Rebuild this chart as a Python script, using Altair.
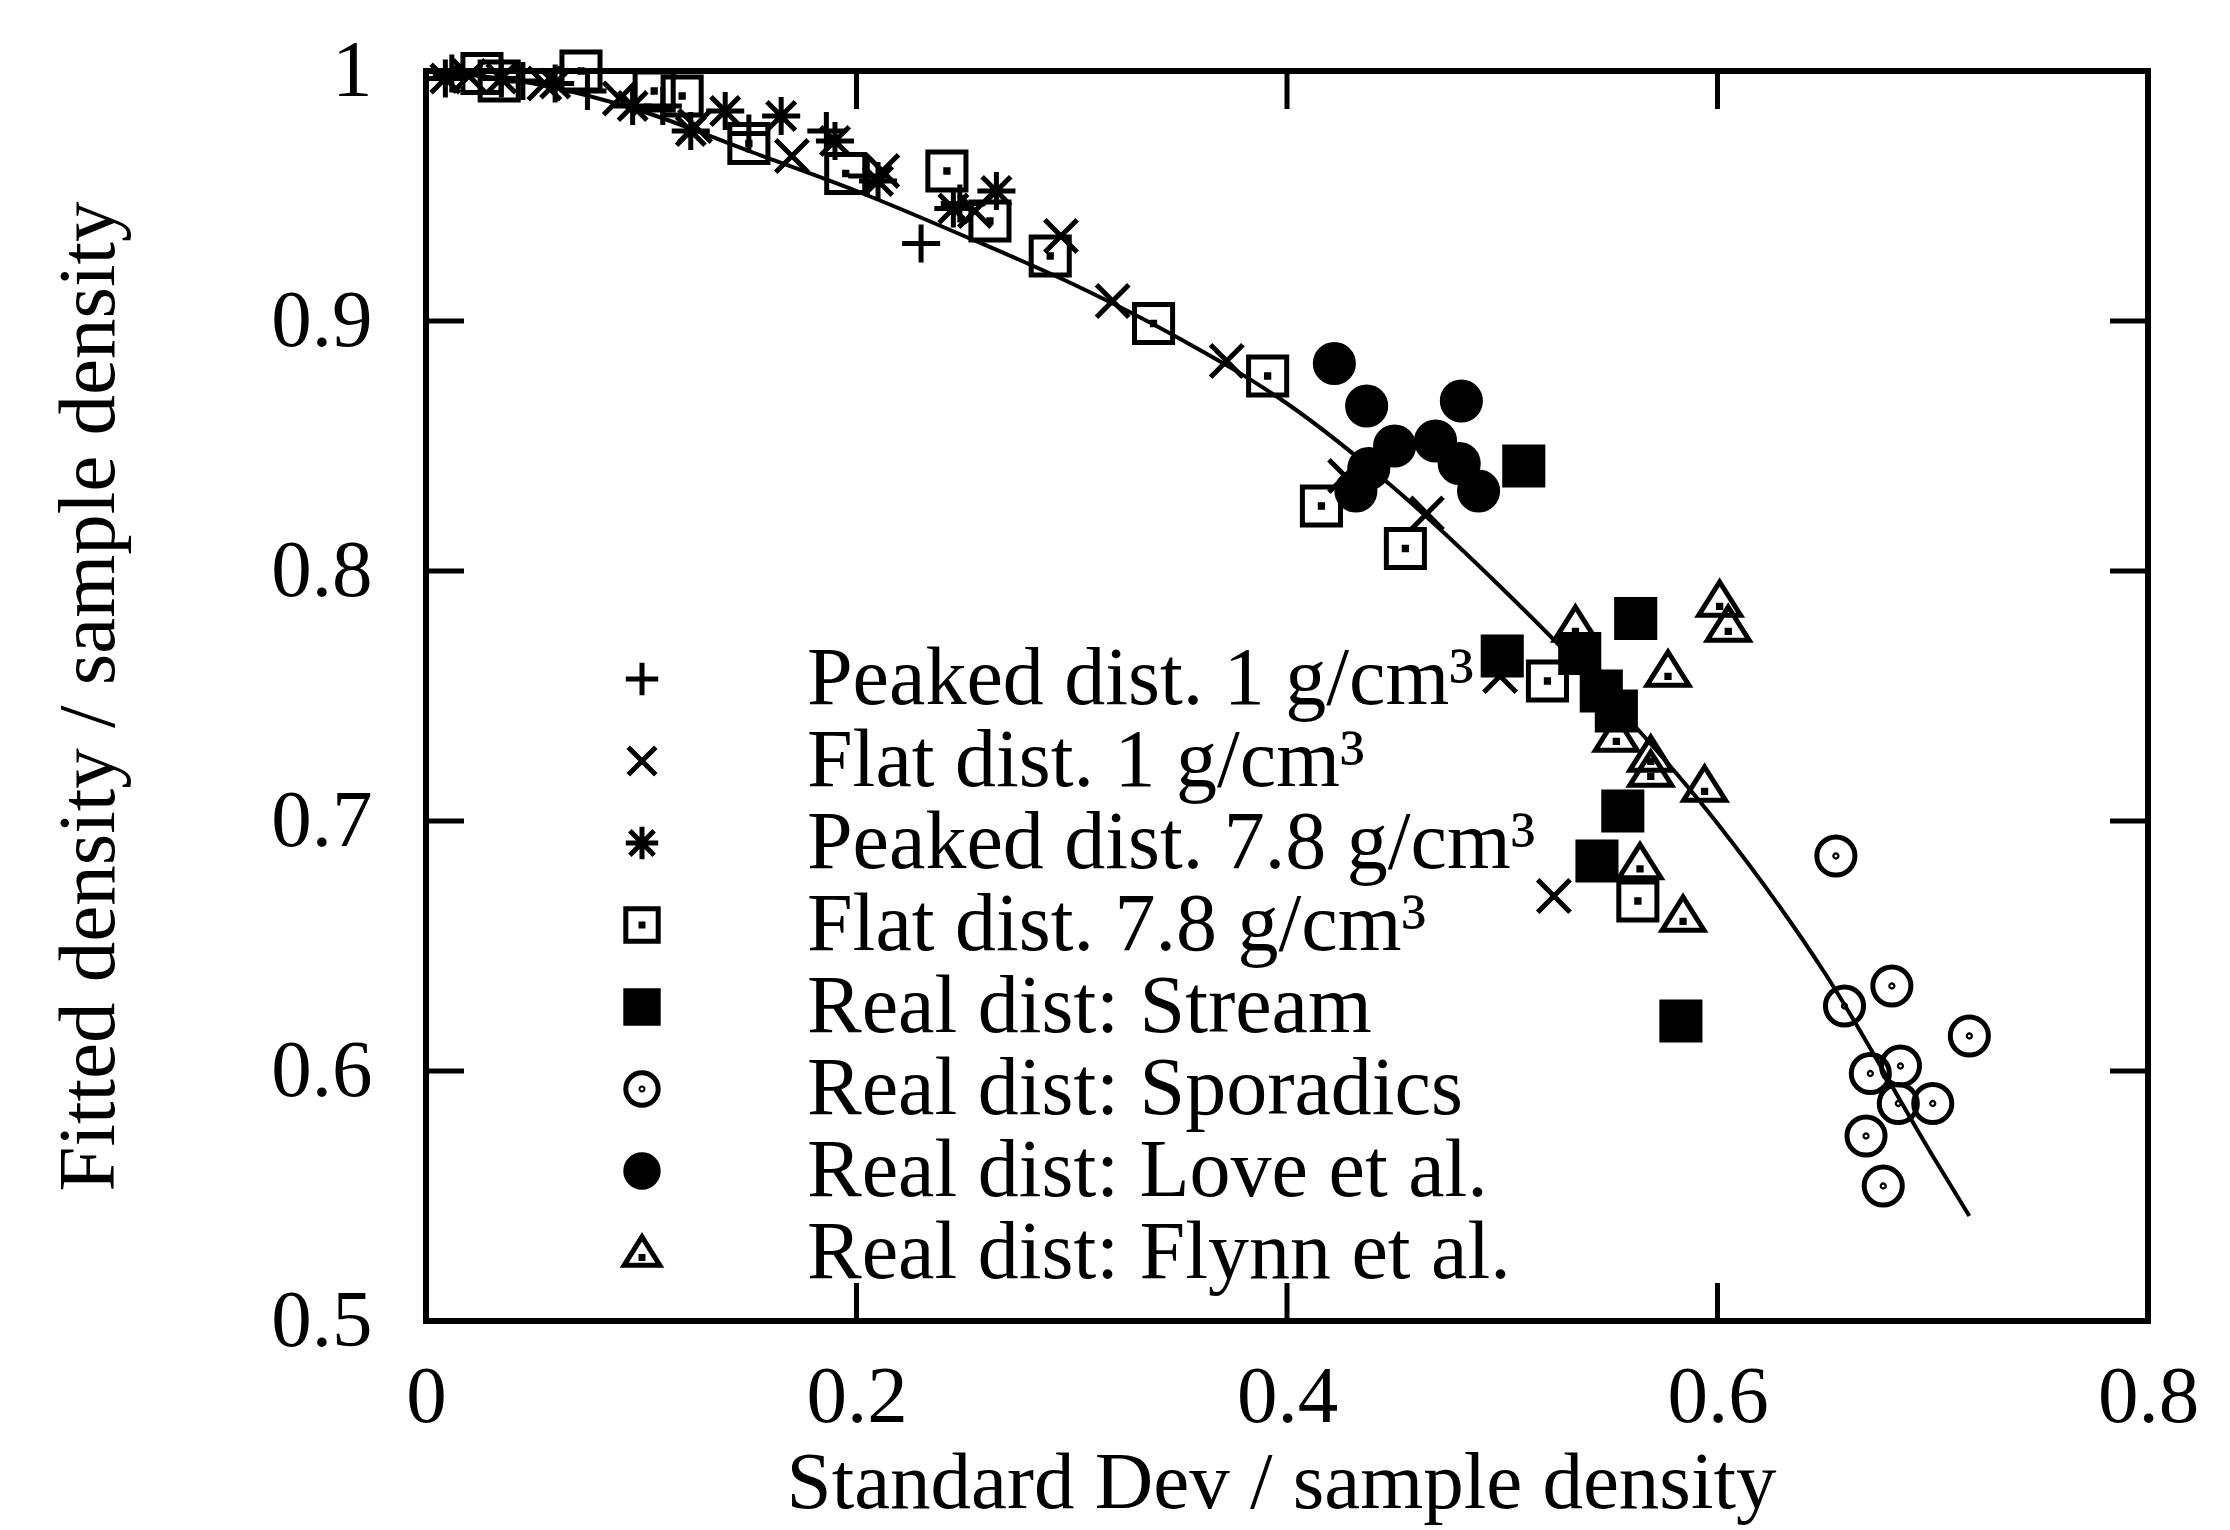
import altair as alt
import pandas as pd

# ---------------- data ----------------
series_names = [
    "Peaked dist. 1 g/cm³",
    "Flat dist. 1 g/cm³",
    "Peaked dist. 7.8 g/cm³",
    "Flat dist. 7.8 g/cm³",
    "Real dist: Stream",
    "Real dist: Sporadics",
    "Real dist: Love et al.",
    "Real dist: Flynn et al.",
]

peaked1_x = [0.012, 0.045, 0.075, 0.110, 0.150, 0.186, 0.205, 0.230, 0.248]
peaked1_y = [0.999, 0.996, 0.992, 0.986, 0.975, 0.976, 0.958, 0.931, 0.947]

flat1_x = [0.020, 0.055, 0.090, 0.125, 0.170, 0.212, 0.255, 0.295, 0.319, 0.372, 0.427, 0.465, 0.499, 0.524]
flat1_y = [0.998, 0.995, 0.989, 0.978, 0.966, 0.960, 0.944, 0.934, 0.908, 0.884, 0.838, 0.823, 0.758, 0.670]

peaked78_x = [0.009, 0.035, 0.060, 0.096, 0.123, 0.139, 0.165, 0.190, 0.210, 0.245, 0.265]
peaked78_y = [0.997, 0.997, 0.995, 0.986, 0.976, 0.984, 0.982, 0.972, 0.956, 0.945, 0.952]

flat78_x = [0.026, 0.034, 0.072, 0.106, 0.119, 0.150, 0.195, 0.242, 0.262, 0.290, 0.338, 0.391, 0.416, 0.455, 0.521, 0.563]
flat78_y = [0.999, 0.996, 1.000, 0.992, 0.990, 0.971, 0.959, 0.960, 0.940, 0.926, 0.899, 0.878, 0.826, 0.809, 0.756, 0.668]

stream_x = [0.510, 0.562, 0.500, 0.536, 0.546, 0.553, 0.556, 0.544, 0.583]
stream_y = [0.842, 0.781, 0.766, 0.767, 0.752, 0.744, 0.704, 0.684, 0.620]

sporadics_x = [0.655, 0.681, 0.659, 0.717, 0.671, 0.685, 0.684, 0.700, 0.669, 0.677]
sporadics_y = [0.686, 0.634, 0.626, 0.614, 0.599, 0.602, 0.587, 0.587, 0.574, 0.554]

love_x = [0.422, 0.437, 0.481, 0.450, 0.469, 0.438, 0.432, 0.480, 0.489]
love_y = [0.883, 0.866, 0.868, 0.850, 0.852, 0.841, 0.832, 0.843, 0.832]

flynn_x = [0.534, 0.601, 0.605, 0.577, 0.553, 0.569, 0.569, 0.594, 0.564, 0.584]
flynn_y = [0.778, 0.788, 0.778, 0.760, 0.734, 0.726, 0.720, 0.714, 0.683, 0.662]

fit_x = [0.0, 0.05, 0.10, 0.15, 0.20, 0.25, 0.30, 0.35, 0.40, 0.45, 0.50, 0.55, 0.60, 0.65, 0.70, 0.717]
fit_y = [1.0, 0.995, 0.984, 0.968, 0.952, 0.934, 0.915, 0.893, 0.867, 0.833, 0.793, 0.749, 0.699, 0.639, 0.566, 0.542]

x_ticks = [0.2, 0.4, 0.6]
y_ticks = [0.6, 0.7, 0.8, 0.9]

# ---------------- styling ----------------
shape_paths = [
    "M-1,0H1M0,-1V1",
    "M-0.85,-0.85L0.85,0.85M-0.85,0.85L0.85,-0.85",
    "M-1,0H1M0,-1V1M-0.75,-0.75L0.75,0.75M-0.75,0.75L0.75,-0.75",
    "M-1,-1H1V1H-1Z M-0.06,-0.06H0.06V0.06H-0.06Z",
    "square",
    "M1,0A1,1,0,1,1,-1,0A1,1,0,1,1,1,0Z M0.06,0A0.06,0.06,0,1,1,-0.06,0A0.06,0.06,0,1,1,0.06,0Z",
    "circle",
    "M0,-1L1.1,0.75H-1.1Z M-0.06,0.22H0.06V0.34H-0.06Z",
]
fill_colors = ["transparent", "transparent", "transparent", "transparent",
               "black", "transparent", "black", "transparent"]
stroke_colors = ["black"] * 8

W, H = 1722, 1250
FONT = "Liberation Serif"

xs_all = [peaked1_x, flat1_x, peaked78_x, flat78_x, stream_x, sporadics_x, love_x, flynn_x]
ys_all = [peaked1_y, flat1_y, peaked78_y, flat78_y, stream_y, sporadics_y, love_y, flynn_y]
rows = []
for name, xs, ys in zip(series_names, xs_all, ys_all):
    for a, b in zip(xs, ys):
        rows.append({"series": name, "x": a, "y": b})
pts = pd.DataFrame(rows)
fit = pd.DataFrame({"x": fit_x, "y": fit_y})
xt = pd.DataFrame({"x": x_ticks})
yt = pd.DataFrame({"y": y_ticks})

xscale = alt.Scale(domain=[0, 0.8], nice=False, zero=False)
yscale = alt.Scale(domain=[0.5, 1.0], nice=False, zero=False)

xaxis = alt.Axis(values=[0, 0.2, 0.4, 0.6, 0.8], grid=False, domain=False, ticks=False, tickSize=0,
                 labelExpr="datum.value == 0 ? '0' : format(datum.value, '.1f')",
                 labelFont=FONT, labelFontSize=81, labelColor="black", labelPadding=36,
                 labelFlush=False, labelOverlap=False,
                 title="Standard Dev / sample density", titleFont=FONT, titleFontSize=81,
                 titleFontWeight="normal", titleColor="black", titleX=855, titleY=186,
                 titleBaseline="alphabetic", titleAlign="center")
yaxis = alt.Axis(values=[0.5, 0.6, 0.7, 0.8, 0.9, 1.0], grid=False, domain=False, ticks=False, tickSize=0,
                 labelExpr="datum.value == 1 ? '1' : format(datum.value, '.1f')",
                 labelFont=FONT, labelFontSize=81, labelColor="black", labelPadding=54,
                 labelFlush=False, labelOverlap=False,
                 title="Fitted density / sample density", titleFont=FONT, titleFontSize=81,
                 titleFontWeight="normal", titleColor="black", titleX=-313, titleY=H / 2,
                 titleBaseline="alphabetic", titleAlign="center", titleAngle=270)

X = alt.X("x:Q", scale=xscale, axis=xaxis, title="Standard Dev / sample density")
Y = alt.Y("y:Q", scale=yscale, axis=yaxis, title="Fitted density / sample density")

line = alt.Chart(fit).mark_line(color="black", strokeWidth=4, interpolate="monotone").encode(x=X, y=Y)

legend = alt.Legend(title=None, orient="none", legendX=175, legendY=567, padding=0,
                    symbolSize=1050, symbolStrokeWidth=5, symbolStrokeColor="black",
                    labelFont=FONT, labelFontSize=82, labelColor="black", labelOffset=124,
                    labelLimit=2000, rowPadding=0)

points = alt.Chart(pts).mark_point(strokeWidth=5, size=1450, opacity=1).encode(
    x=X,
    y=Y,
    shape=alt.Shape("series:N", scale=alt.Scale(domain=series_names, range=shape_paths), legend=legend),
    fill=alt.Fill("series:N", scale=alt.Scale(domain=series_names, range=fill_colors), legend=legend),
    stroke=alt.Stroke("series:N", scale=alt.Scale(domain=series_names, range=stroke_colors), legend=legend),
)

tick_b = alt.Chart(xt).mark_rule(color="black", strokeWidth=5).encode(
    x=X, y=alt.value(H), y2=alt.value(H - 38))
tick_t = alt.Chart(xt).mark_rule(color="black", strokeWidth=5).encode(
    x=X, y=alt.value(0), y2=alt.value(38))
tick_l = alt.Chart(yt).mark_rule(color="black", strokeWidth=5).encode(
    y=Y, x=alt.value(0), x2=alt.value(38))
tick_r = alt.Chart(yt).mark_rule(color="black", strokeWidth=5).encode(
    y=Y, x=alt.value(W - 38), x2=alt.value(W))

chart = alt.layer(line, tick_b, tick_t, tick_l, tick_r, points).properties(
    width=W, height=H,
    background="white",
    autosize=alt.AutoSizeParams(type="none"),
    padding={"left": 426, "top": 71, "right": 82, "bottom": 209},
).configure_view(stroke="black", strokeWidth=6)

chart.save("out.html", embed_options={"renderer": "svg", "actions": False})
